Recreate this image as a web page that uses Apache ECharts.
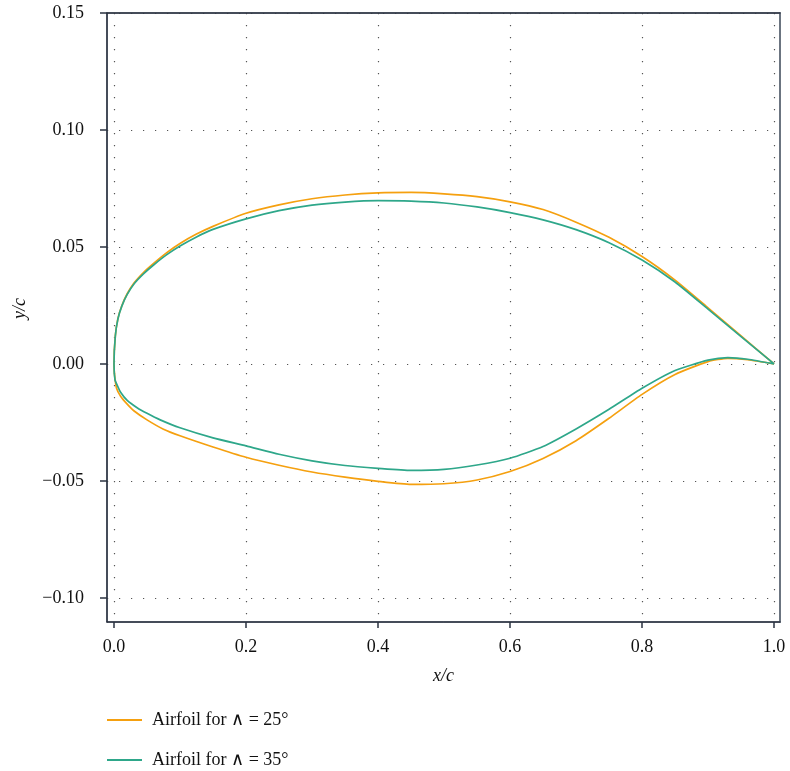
<!DOCTYPE html>
<html>
<head>
<meta charset="utf-8">
<script src="https://cdn.jsdelivr.net/npm/echarts@6/dist/echarts.min.js"></script>
<style>html,body{margin:0;padding:0;background:#fff;}#c{width:790px;height:771px;}</style>
</head>
<body>
<div id="c"></div>
<script>
// Airfoil for Λ = 25° — upper surface (LE -> TE) and lower surface (LE -> TE)
const x25Upper = [0.0, 0.002, 0.006, 0.012, 0.02, 0.03, 0.045, 0.06, 0.08, 0.10, 0.125, 0.15, 0.2, 0.25, 0.3, 0.35, 0.4, 0.45, 0.5, 0.55, 0.6, 0.65, 0.7, 0.75, 0.8, 0.85, 0.9, 0.95, 1.0];
const y25Upper = [0.0, 0.0120, 0.0195, 0.0250, 0.0300, 0.0345, 0.0392, 0.0430, 0.0476, 0.0515, 0.0555, 0.0588, 0.0644, 0.0680, 0.0706, 0.0722, 0.0731, 0.0733, 0.0727, 0.0715, 0.0693, 0.0660, 0.0606, 0.0541, 0.0459, 0.0358, 0.0240, 0.0120, 0.0];
const x25Lower = [0.0, 0.001, 0.004, 0.01, 0.02, 0.03, 0.05, 0.075, 0.10, 0.15, 0.2, 0.25, 0.3, 0.35, 0.4, 0.45, 0.5, 0.55, 0.6, 0.65, 0.7, 0.75, 0.8, 0.85, 0.9, 0.93, 0.96, 1.0];
const y25Lower = [0.0, -0.0050, -0.0105, -0.0138, -0.0172, -0.0200, -0.0239, -0.0279, -0.0307, -0.0355, -0.0399, -0.0433, -0.0462, -0.0484, -0.0502, -0.0515, -0.0512, -0.0496, -0.0460, -0.0404, -0.0328, -0.0232, -0.0130, -0.0045, 0.0010, 0.0024, 0.0018, 0.0];
// Airfoil for Λ = 35°
const x35Upper = [0.0, 0.002, 0.006, 0.012, 0.02, 0.03, 0.045, 0.06, 0.08, 0.10, 0.125, 0.15, 0.2, 0.25, 0.3, 0.35, 0.4, 0.45, 0.5, 0.55, 0.6, 0.65, 0.7, 0.75, 0.8, 0.85, 0.9, 0.95, 1.0];
const y35Upper = [0.0, 0.0119, 0.0193, 0.0248, 0.0297, 0.0341, 0.0386, 0.0423, 0.0467, 0.0504, 0.0543, 0.0575, 0.0620, 0.0655, 0.0679, 0.0692, 0.0698, 0.0696, 0.0688, 0.0671, 0.0647, 0.0616, 0.0574, 0.0518, 0.0444, 0.0350, 0.0234, 0.0117, 0.0];
const x35Lower = [0.0, 0.0015, 0.005, 0.01, 0.02, 0.035, 0.05, 0.07, 0.10, 0.15, 0.2, 0.25, 0.3, 0.35, 0.4, 0.45, 0.5, 0.55, 0.6, 0.65, 0.7, 0.75, 0.8, 0.85, 0.9, 0.93, 0.96, 1.0];
const y35Lower = [0.0, -0.0068, -0.0092, -0.0121, -0.0156, -0.0187, -0.0211, -0.0239, -0.0273, -0.0316, -0.0350, -0.0386, -0.0414, -0.0434, -0.0446, -0.0455, -0.0451, -0.0432, -0.0403, -0.0353, -0.0278, -0.0194, -0.0104, -0.0028, 0.0016, 0.0027, 0.0020, 0.0];

const seriesNames = ['Airfoil for \u2227 = 25\u00b0', 'Airfoil for \u2227 = 35\u00b0'];
const xTicks = [0.0, 0.2, 0.4, 0.6, 0.8, 1.0];
const yTicks = [-0.10, -0.05, 0.00, 0.05, 0.10, 0.15];

// closed outline: TE -> upper surface -> LE -> lower surface -> TE
const outline = (xu, yu, xl, yl) => {
  const pts = [];
  for (let i = xu.length - 1; i >= 0; i--) pts.push([xu[i], yu[i]]);
  for (let i = 1; i < xl.length; i++) pts.push([xl[i], yl[i]]);
  return pts;
};
const FONT = '"Liberation Serif", "DejaVu Serif", serif';
const fmtY = v => (v < 0 ? '\u2212' : '') + Math.abs(v).toFixed(2);
const fmtX = v => v.toFixed(1);
const gridDots = { show: true, lineStyle: { color: '#555', width: 1.2, type: [1.2, 10.8] } };
const C25 = '#F5A00F', C35 = '#2EA78A';

const chart = echarts.init(document.getElementById('c'), null, { renderer: 'canvas' });
chart.setOption({
  animation: false,
  backgroundColor: '#fff',
  grid: { left: 107, right: 10, top: 13, bottom: 149, show: true, borderColor: '#2b3342', borderWidth: 1 },
  legend: {
    left: 107, top: 711, height: 70, padding: 0, orient: 'vertical', itemGap: 22, itemWidth: 35, itemHeight: 2,
    icon: 'rect',
    textStyle: { fontFamily: FONT, fontSize: 18, color: '#111', padding: [0, 0, 0, 5] },
    data: seriesNames
  },
  xAxis: [{
    type: 'value', min: -0.0106, max: 1.009,
    name: 'x/c', nameLocation: 'middle', nameGap: 45,
    nameTextStyle: { fontFamily: FONT, fontSize: 18, fontStyle: 'italic', color: '#111' },
    axisLine: { show: true, onZero: false, lineStyle: { color: '#2b3342', width: 1.5 } },
    axisTick: { show: true, length: 6, customValues: xTicks, lineStyle: { color: '#2b3342', width: 1.5 } },
    axisLabel: { customValues: xTicks, formatter: fmtX, fontFamily: FONT, fontSize: 18, color: '#111', margin: 16 },
    splitLine: gridDots
  }, {
    type: 'value', position: 'top', min: -0.0106, max: 1.009,
    axisLine: { show: true, onZero: false, lineStyle: { color: '#2b3342', width: 1.5 } },
    axisTick: { show: false }, axisLabel: { show: false }, splitLine: { show: false }
  }],
  yAxis: [{
    type: 'value', min: -0.1103, max: 0.15,
    name: 'y/c', nameLocation: 'middle', nameGap: 78,
    nameTextStyle: { fontFamily: FONT, fontSize: 18, fontStyle: 'italic', color: '#111', padding: [0, 0, 0, 18] },
    axisLine: { show: true, onZero: false, lineStyle: { color: '#2b3342', width: 1.5 } },
    axisTick: { show: true, length: 7, customValues: yTicks, lineStyle: { color: '#2b3342', width: 1.5 } },
    axisLabel: { customValues: yTicks, formatter: fmtY, fontFamily: FONT, fontSize: 18, color: '#111', margin: 23 },
    splitLine: gridDots
  }, {
    type: 'value', position: 'right', min: -0.1103, max: 0.15,
    axisLine: { show: true, onZero: false, lineStyle: { color: '#6b7480', width: 2 } },
    axisTick: { show: false }, axisLabel: { show: false }, splitLine: { show: false }
  }],
  series: [{
    name: seriesNames[0], type: 'line', data: outline(x25Upper, y25Upper, x25Lower, y25Lower),
    symbol: 'none', smooth: 0.2,
    lineStyle: { color: C25, width: 1.7 }, itemStyle: { color: C25 }
  }, {
    name: seriesNames[1], type: 'line', data: outline(x35Upper, y35Upper, x35Lower, y35Lower),
    symbol: 'none', smooth: 0.2,
    lineStyle: { color: C35, width: 1.7 }, itemStyle: { color: C35 }
  }]
});
</script>
</body>
</html>
